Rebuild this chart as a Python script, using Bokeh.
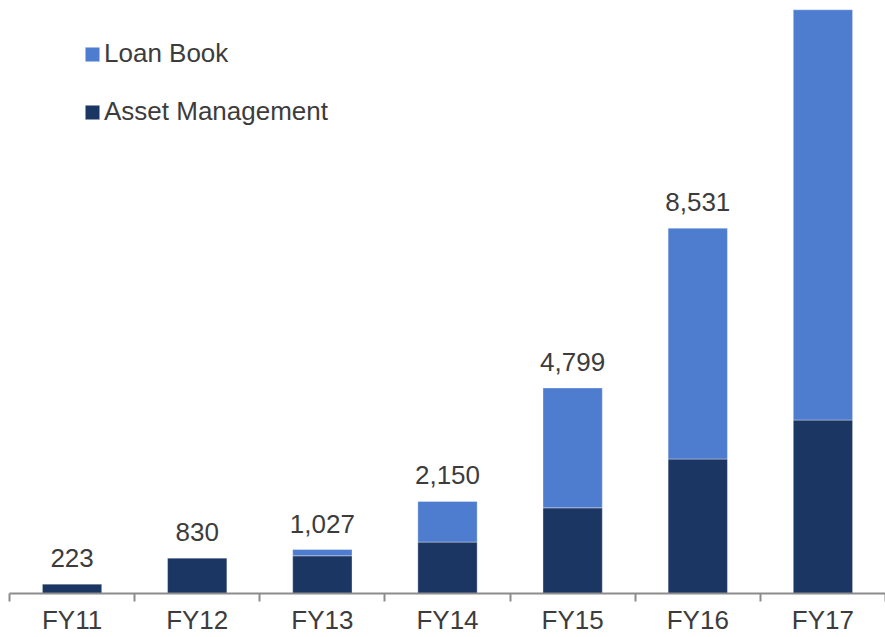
from bokeh.plotting import figure
from bokeh.models import (ColumnDataSource, FixedTicker, Legend, LegendItem, Range1d)
from bokeh.core.properties import value
from bokeh.embed import file_html
from bokeh.resources import INLINE

categories = ["FY11", "FY12", "FY13", "FY14", "FY15", "FY16", "FY17"]
asset_management = [223, 830, 880, 1200, 2000, 3140, 4050]
loan_book = [0, 0, 147, 950, 2799, 5391, 9580]
total_labels = ["223", "830", "1,027", "2,150", "4,799", "8,531", ""]

LIGHT = "#4E7CCE"
DARK = "#1C3664"
TEXT = "#3c3c3c"
FONT = "Liberation Sans"
FS = "26px"

n = len(categories)
xs = [i + 0.5 for i in range(n)]
totals = [a + b for a, b in zip(asset_management, loan_book)]

src = ColumnDataSource(dict(x=xs, am=asset_management, lb=loan_book))
lab_src = ColumnDataSource(dict(x=xs, y=totals, t=total_labels))

p = figure(width=885, height=637, output_backend="svg", toolbar_location=None,
           x_range=Range1d(0, n), y_range=Range1d(0, 13846),
           min_border_left=9, min_border_right=0, min_border_top=0,
           min_border_bottom=43)
p.outline_line_color = None
p.grid.visible = False
p.yaxis.visible = False
p.background_fill_color = "white"
p.border_fill_color = "white"

r = p.vbar_stack(["am", "lb"], x="x", width=0.474, source=src,
                 color=[DARK, LIGHT], line_color="white", line_alpha=0.35)

p.text(x="x", y="y", text="t", source=lab_src, text_align="center",
       text_baseline="alphabetic", y_offset=-26, text_font=value(FONT),
       text_font_size=FS, text_color=TEXT)

ax = p.xaxis[0]
ax.ticker = FixedTicker(ticks=xs, minor_ticks=list(range(n + 1)))
ax.major_label_overrides = {x: c for x, c in zip(xs, categories)}
ax.major_tick_line_color = None
ax.major_tick_in = 0
ax.major_tick_out = 0
ax.minor_tick_in = 0
ax.minor_tick_out = 8
ax.minor_tick_line_color = "#8c8c8c"
ax.minor_tick_line_width = 2
ax.axis_line_color = "#8c8c8c"
ax.axis_line_width = 2
ax.major_label_standoff = 3
ax.major_label_text_font = FONT
ax.major_label_text_font_size = FS
ax.major_label_text_color = TEXT

legend = Legend(items=[LegendItem(label="Loan Book", renderers=[r[1]]),
                       LegendItem(label="Asset Management", renderers=[r[0]])],
                location=(74, 466), orientation="vertical",
                glyph_width=18, glyph_height=18, label_height=30, spacing=27,
                label_standoff=3, padding=0, margin=0,
                border_line_color=None, background_fill_alpha=0,
                label_text_font=FONT, label_text_font_size=FS,
                label_text_color=TEXT)
p.add_layout(legend, "center")

open("out.html", "w").write(file_html(p, INLINE))
